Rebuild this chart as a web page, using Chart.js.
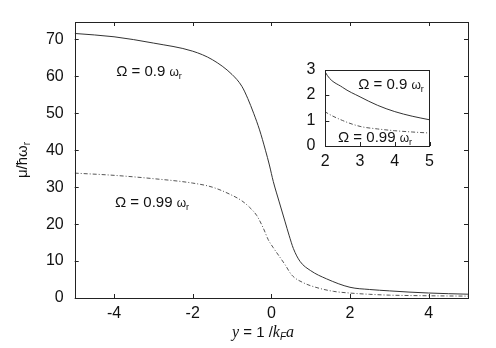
<!DOCTYPE html>
<html>
<head>
<meta charset="utf-8">
<script src="https://cdn.jsdelivr.net/npm/chart.js@4/dist/chart.umd.min.js"></script>
<style>
  html, body { margin: 0; padding: 0; background: #fff; }
  #wrap { position: relative; width: 496px; height: 348px; }
  #main { position: absolute; left: 0; top: 0; }
  #inset { position: absolute; left: 295px; top: 50px; }
</style>
</head>
<body>
<div id="wrap">
  <canvas id="main" width="496" height="348"></canvas>
  <canvas id="inset" width="145" height="120"></canvas>
</div>
<script>
const xTicks = [-4, -2, 0, 2, 4];
const yTicks = [0, 10, 20, 30, 40, 50, 60, 70];
const insetXTicks = [2, 3, 4, 5];
const insetYTicks = [0, 1, 2, 3];

// Omega = 0.9 omega_r (solid)
const xSolid = [-5, -4, -3, -2, -1.5, -1, -0.75, -0.6, -0.45, -0.3, -0.15, -0.05, 0.05, 0.2, 0.35, 0.45, 0.56, 0.73, 1.0, 1.4, 2, 2.5, 3, 3.5, 4, 4.5, 5];
const muSolid = [71.6, 70.7, 69.0, 66.8, 64.5, 60.5, 57.3, 54.0, 50.0, 45.5, 40.0, 36.0, 31.5, 26.0, 20.6, 17.0, 13.4, 9.9, 7.4, 5.2, 2.9, 2.3, 1.93, 1.6, 1.35, 1.17, 1.03];

// Omega = 0.99 omega_r (dashed)
const xDashed = [-5, -4, -3, -2, -1.5, -1, -0.75, -0.55, -0.37, -0.2, -0.08, 0.05, 0.2, 0.35, 0.52, 0.82, 1.16, 1.58, 2, 2.5, 3, 3.5, 4, 4.5, 5];
const muDashed = [33.8, 33.2, 32.3, 31.1, 30.0, 27.8, 26.3, 24.5, 22.3, 18.8, 15.8, 13.6, 11.3, 9.0, 6.2, 4.1, 2.8, 1.8, 1.34, 1.0, 0.77, 0.67, 0.6, 0.55, 0.51];

const SANS = '"Liberation Sans", Arial, sans-serif';
const SERIF = '"Liberation Serif", "Times New Roman", serif';
const ink = '#111';

function pts(xs, ys) {
  return xs.map((x, i) => ({ x: x, y: ys[i] }));
}

function datasets() {
  return [
    {
      data: pts(xSolid, muSolid),
      borderColor: '#333',
      borderWidth: 1,
      pointRadius: 0,
      cubicInterpolationMode: 'monotone',
    },
    {
      data: pts(xDashed, muDashed),
      borderColor: '#555',
      borderWidth: 1,
      borderDash: [4, 2, 1, 2],
      pointRadius: 0,
      cubicInterpolationMode: 'monotone',
    },
  ];
}

// draws a run of text pieces, each with its own font / offset
function rich(ctx, parts, x, y, align) {
  let w = 0;
  for (const p of parts) {
    ctx.font = p.font;
    p.w = ctx.measureText(p.t).width;
    w += p.w;
  }
  let cx = align === 'center' ? x - w / 2 : x;
  ctx.textAlign = 'left';
  ctx.textBaseline = 'alphabetic';
  for (const p of parts) {
    ctx.font = p.font;
    ctx.fillText(p.t, cx, y + (p.dy || 0));
    cx += p.w;
  }
}

function omegaLabel(val, size) {
  return [
    { t: 'Ω = ' + val + ' ', font: size + 'px ' + SANS },
    { t: 'ω', font: Math.round(size * 0.8) + 'px ' + SANS },
    { t: 'r', font: Math.round(size * 0.6) + 'px ' + SANS, dy: 3 },
  ];
}

// frame + inward tick marks, gnuplot style
function frameTicks(xt, yt, len, mirror) {
  return {
    id: 'frameTicks',
    afterDatasetsDraw(chart) {
      const { ctx, chartArea: a, scales: { x, y } } = chart;
      ctx.save();
      ctx.strokeStyle = '#222';
      ctx.lineWidth = 1;
      ctx.strokeRect(Math.round(a.left) + 0.5, Math.round(a.top) + 0.5,
        Math.round(a.right - a.left), Math.round(a.bottom - a.top));
      ctx.beginPath();
      for (const v of xt) {
        const px = Math.round(x.getPixelForValue(v)) + 0.5;
        ctx.moveTo(px, a.bottom); ctx.lineTo(px, a.bottom - len);
        if (mirror) { ctx.moveTo(px, a.top); ctx.lineTo(px, a.top + len); }
      }
      for (const v of yt) {
        const py = Math.round(y.getPixelForValue(v)) + 0.5;
        ctx.moveTo(a.left, py); ctx.lineTo(a.left + len, py);
        if (mirror) { ctx.moveTo(a.right, py); ctx.lineTo(a.right - len, py); }
      }
      ctx.stroke();
      ctx.restore();
    },
  };
}

const mainText = {
  id: 'mainText',
  afterDraw(chart) {
    const ctx = chart.ctx;
    ctx.save();
    ctx.fillStyle = ink;
    rich(ctx, omegaLabel('0.9', 15), 149, 76, 'center');
    rich(ctx, omegaLabel('0.99', 15), 152, 207, 'center');
    // x title
    rich(ctx, [
      { t: 'y', font: 'italic 16px ' + SERIF },
      { t: ' = 1 /', font: '15px ' + SANS },
      { t: 'k', font: 'italic 16px ' + SERIF },
      { t: 'F', font: 'italic 10px ' + SANS, dy: 3 },
      { t: 'a', font: 'italic 16px ' + SERIF },
    ], 263, 337, 'center');
    // y title, rotated
    ctx.translate(27, 160);
    ctx.rotate(-Math.PI / 2);
    rich(ctx, [
      { t: 'μ/ħω', font: '15px ' + SANS },
      { t: 'r', font: '10px ' + SANS, dy: 3 },
    ], 0, 0, 'center');
    ctx.restore();
  },
};

const insetText = {
  id: 'insetText',
  afterDraw(chart) {
    const ctx = chart.ctx;
    ctx.save();
    ctx.fillStyle = ink;
    rich(ctx, omegaLabel('0.9', 15), 96, 39, 'center');
    rich(ctx, omegaLabel('0.99', 15), 80, 92, 'center');
    ctx.restore();
  },
};

function axis(min, max, ticks, size, pad, fit) {
  return {
    type: 'linear',
    min: min,
    max: max,
    afterBuildTicks: (s) => { s.ticks = ticks.map((v) => ({ value: v })); },
    afterFit: fit,
    grid: { display: false, drawTicks: false },
    border: { display: false },
    ticks: {
      autoSkip: false,
      maxRotation: 0,
      padding: pad,
      color: ink,
      font: { family: SANS, size: size },
    },
  };
}

new Chart(document.getElementById('main'), {
  type: 'line',
  data: { datasets: datasets() },
  options: {
    responsive: false,
    devicePixelRatio: 1,
    animation: false,
    layout: { padding: { top: 22, right: 28, left: 0, bottom: 0 } },
    plugins: { legend: { display: false }, tooltip: { enabled: false } },
    scales: {
      x: axis(-5, 5, xTicks, 16, 6, (s) => { s.height = 50; }),
      y: axis(0, 74.7, yTicks, 16, 11, (s) => { s.width = 74.7; }),
    },
  },
  plugins: [frameTicks(xTicks, yTicks, 4, true), mainText],
});

new Chart(document.getElementById('inset'), {
  type: 'line',
  data: { datasets: datasets() },
  options: {
    responsive: false,
    devicePixelRatio: 1,
    animation: false,
    layout: { padding: { top: 11.7, right: 7.3, left: 0, bottom: 0 } },
    plugins: { legend: { display: false }, tooltip: { enabled: false } },
    scales: {
      x: axis(2, 5, insetXTicks, 16, 6, (s) => { s.height = 24; }),
      y: axis(0, 3, insetYTicks, 16, 10, (s) => { s.width = 30.3; }),
    },
  },
  plugins: [frameTicks(insetXTicks, insetYTicks, 4, false), insetText],
});
</script>
</body>
</html>
